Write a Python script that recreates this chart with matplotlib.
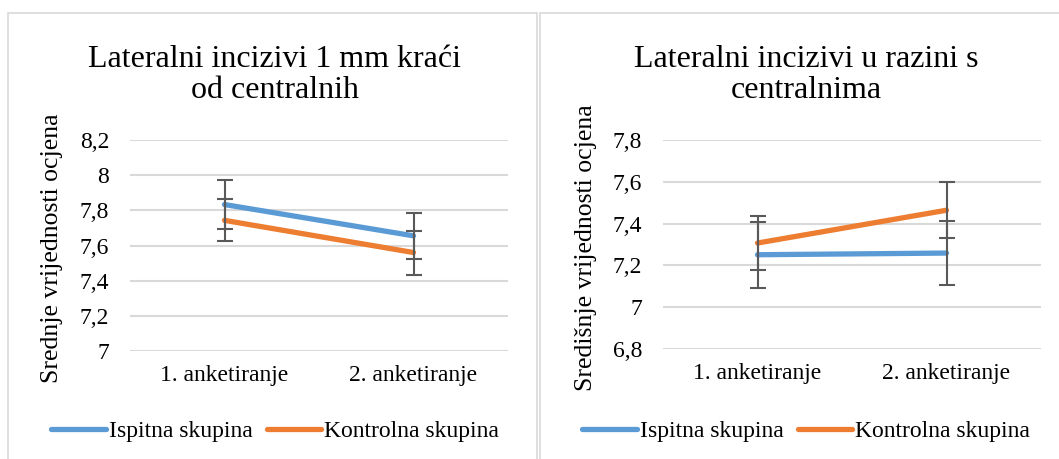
import matplotlib
matplotlib.use("Agg")
import matplotlib.pyplot as plt
from matplotlib.patches import Rectangle

plt.rcParams['font.family'] = ['Liberation Serif', 'DejaVu Serif']

categories = ["1. anketiranje", "2. anketiranje"]
series_names = ["Ispitna skupina", "Kontrolna skupina"]

left_title = "Lateralni incizivi 1 mm kraći\nod centralnih"
left_ylabel = "Srednje vrijednosti ocjena"
left_ispitna = [7.833, 7.655]
left_ispitna_err = [0.14, 0.13]
left_kontrolna = [7.743, 7.56]
left_kontrolna_err = [0.12, 0.125]
left_yticks = [7.0, 7.2, 7.4, 7.6, 7.8, 8.0, 8.2]
left_yticklabels = ["7", "7,2", "7,4", "7,6", "7,8", "8", "8,2"]

right_title = "Lateralni incizivi u razini s\ncentralnima"
right_ylabel = "Središnje vrijednosti ocjena"
right_ispitna = [7.251, 7.259]
right_ispitna_err = [0.158, 0.153]
right_kontrolna = [7.307, 7.464]
right_kontrolna_err = [0.128, 0.135]
right_yticks = [6.8, 7.0, 7.2, 7.4, 7.6, 7.8]
right_yticklabels = ["6,8", "7", "7,2", "7,4", "7,6", "7,8"]

BLUE = "#5B9BD5"
ORANGE = "#ED7D31"
GRID = "#D9D9D9"
ERR = "#595959"

W, H = 1059, 459
fig = plt.figure(figsize=(W / 100, H / 100), dpi=100)

# panel borders
for x0, x1 in [(8, 537), (540, 1072)]:
    fig.patches.append(Rectangle((x0 / W, -0.05), (x1 - x0) / W, (H - 13) / H + 0.05,
                                 transform=fig.transFigure, fill=False,
                                 edgecolor=GRID, linewidth=1.2))


def make_panel(rect, title, ylabel, ispitna, ispitna_err, kontrolna, kontrolna_err,
               yticks, yticklabels, panel_cx, ylabel_x):
    l, t, r, b = rect
    ax = fig.add_axes([l / W, (H - b) / H, (r - l) / W, (b - t) / H])
    x = list(range(len(categories)))
    ax.plot(x, ispitna, color=BLUE, lw=3.8, solid_capstyle='round', label=series_names[0], zorder=3)
    ax.plot(x, kontrolna, color=ORANGE, lw=3.8, solid_capstyle='round', label=series_names[1], zorder=3)
    ax.errorbar(x, ispitna, yerr=ispitna_err, fmt='none', ecolor=ERR, elinewidth=1.5,
                capsize=5.5, capthick=1.5, zorder=4)
    ax.errorbar(x, kontrolna, yerr=kontrolna_err, fmt='none', ecolor=ERR, elinewidth=1.5,
                capsize=5.5, capthick=1.5, zorder=4)
    ax.set_xlim(-0.5, len(categories) - 0.5)
    ax.set_ylim(yticks[0], yticks[-1])
    ax.set_yticks(yticks)
    ax.set_yticklabels(yticklabels, fontsize=17)
    ax.set_xticks(x)
    ax.set_xticklabels(categories, fontsize=17)
    ax.tick_params(axis='both', length=0)
    ax.tick_params(axis='y', pad=15)
    ax.tick_params(axis='x', pad=10)
    ax.grid(axis='y', color=GRID, lw=1.5)
    ax.set_axisbelow(True)
    for s in ax.spines.values():
        s.set_visible(False)
    for art in ax.lines:
        art.set_clip_on(False)
    fig.text(panel_cx / W, (H - 75) / H, title, ha='center', va='center', fontsize=23,
             linespacing=1.08)
    fig.text(ylabel_x / W, (H - 248) / H, ylabel, ha='center', va='center', rotation=90,
             fontsize=18.5)
    handles, labels = ax.get_legend_handles_labels()
    fig.legend(handles, labels, loc='center', bbox_to_anchor=(panel_cx / W, (H - 431) / H),
               ncol=2, frameon=False, fontsize=17, handlelength=2.3, handletextpad=0.12,
               columnspacing=0.6)
    return ax


make_panel((130, 140, 508, 351), left_title, left_ylabel, left_ispitna, left_ispitna_err,
           left_kontrolna, left_kontrolna_err, left_yticks, left_yticklabels, 275, 52)
make_panel((663, 140, 1041, 349), right_title, right_ylabel, right_ispitna, right_ispitna_err,
           right_kontrolna, right_kontrolna_err, right_yticks, right_yticklabels, 806, 586)

fig.savefig("out.png", dpi=100)
